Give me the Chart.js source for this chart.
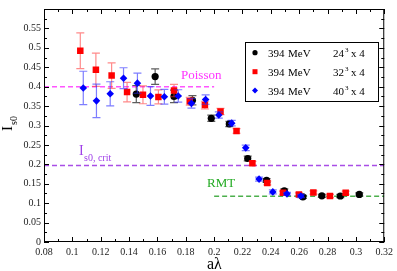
<!DOCTYPE html>
<html>
<head>
<meta charset="utf-8">
<script src="https://cdn.jsdelivr.net/npm/chart.js@4/dist/chart.umd.min.js"></script>
<style>
  html, body { margin: 0; padding: 0; background: #fff; }
  canvas { display: block; }
</style>
</head>
<body>
<canvas id="chart" width="397" height="271"></canvas>
<script>
// 394 MeV, 24^3 x 4
const x24 = [0.1451, 0.1584, 0.1717, 0.1847, 0.198, 0.2107, 0.2237, 0.237, 0.2495, 0.2626, 0.276, 0.289, 0.3024];
const y24 = [0.381, 0.426, 0.375, 0.365, 0.3185, 0.304, 0.215, 0.1585, 0.132, 0.116, 0.119, 0.1185, 0.1225];
const e24 = [0.022, 0.020, 0.016, 0.012, 0.008, 0.007, 0.006, 0.005, 0.005, 0.004, 0.004, 0.004, 0.004];

// 394 MeV, 32^3 x 4
const x32 = [0.1056, 0.1166, 0.1277, 0.1386, 0.1498, 0.1607, 0.1717, 0.1828, 0.1935, 0.2045, 0.2158, 0.227, 0.2375, 0.2486, 0.2598, 0.27, 0.2817, 0.2928];
const y32 = [0.4925, 0.4435, 0.4285, 0.386, 0.379, 0.3735, 0.39, 0.3625, 0.3525, 0.336, 0.286, 0.2025, 0.152, 0.127, 0.1225, 0.1275, 0.1185, 0.127];
const e32 = [0.046, 0.043, 0.033, 0.025, 0.023, 0.018, 0.016, 0.010, 0.010, 0.008, 0.006, 0.005, 0.005, 0.004, 0.004, 0.004, 0.004, 0.004];

// 394 MeV, 40^3 x 4
const x40 = [0.1077, 0.117, 0.1267, 0.1361, 0.1459, 0.1551, 0.1649, 0.1747, 0.184, 0.194, 0.2033, 0.2124, 0.2223, 0.2317, 0.2414, 0.2514, 0.2612];
const y40 = [0.3967, 0.3635, 0.3817, 0.4217, 0.409, 0.376, 0.374, 0.376, 0.357, 0.3667, 0.327, 0.306, 0.2425, 0.162, 0.129, 0.124, 0.1185];
const e40 = [0.043, 0.043, 0.031, 0.027, 0.026, 0.024, 0.019, 0.016, 0.012, 0.012, 0.008, 0.007, 0.007, 0.005, 0.005, 0.004, 0.004];

// reference levels
const poisson = 0.40, poissonEnd = 0.20;
const crit = 0.197;
const rmt = 0.1175, rmtStart = 0.20;

const latticeL = [24, 32, 40];
const mass = '394';
const nt = '4';

const serif = "'Liberation Serif', 'DejaVu Serif', serif";

const pts = (xs, ys) => xs.map((x, i) => ({x: x, y: ys[i]}));
const fmt = v => String(Number(v.toFixed(3)));

const errBars = {
  id: 'errBars',
  beforeDatasetDraw(chart, args) {
    const ds = chart.data.datasets[args.index];
    if (!ds.errors) return;
    const ctx = chart.ctx, xs = chart.scales.x, ys = chart.scales.y;
    ctx.save();
    ctx.strokeStyle = ds.errColor;
    ctx.lineWidth = 1.2;
    ds.data.forEach((p, i) => {
      const px = xs.getPixelForValue(p.x);
      const top = ys.getPixelForValue(p.y + ds.errors[i]);
      const bot = ys.getPixelForValue(p.y - ds.errors[i]);
      ctx.beginPath();
      ctx.moveTo(px, top); ctx.lineTo(px, bot);
      ctx.moveTo(px - 4, top); ctx.lineTo(px + 4, top);
      ctx.moveTo(px - 4, bot); ctx.lineTo(px + 4, bot);
      ctx.stroke();
    });
    ctx.restore();
  }
};

const decor = {
  id: 'decor',
  afterDraw(chart) {
    const ctx = chart.ctx, a = chart.chartArea;
    const xs = chart.scales.x, ys = chart.scales.y;
    ctx.save();

    // frame
    ctx.strokeStyle = '#000';
    ctx.lineWidth = 1;
    ctx.strokeRect(a.left + 0.5, a.top + 0.5, a.right - a.left - 1, a.bottom - a.top - 1);

    // inward ticks, all four sides
    ctx.beginPath();
    const xt = xs.ticks.map(t => t.value);
    xt.forEach((v, i) => {
      const p = Math.round(xs.getPixelForValue(v)) + 0.5;
      ctx.moveTo(p, a.bottom); ctx.lineTo(p, a.bottom - 5);
      ctx.moveTo(p, a.top); ctx.lineTo(p, a.top + 5);
      if (i < xt.length - 1) {
        const m = Math.round(xs.getPixelForValue((v + xt[i + 1]) / 2)) + 0.5;
        ctx.moveTo(m, a.bottom); ctx.lineTo(m, a.bottom - 3);
        ctx.moveTo(m, a.top); ctx.lineTo(m, a.top + 3);
      }
    });
    const yt = ys.ticks.map(t => t.value);
    yt.forEach((v, i) => {
      const p = Math.round(ys.getPixelForValue(v)) + 0.5;
      ctx.moveTo(a.left, p); ctx.lineTo(a.left + 5, p);
      ctx.moveTo(a.right, p); ctx.lineTo(a.right - 5, p);
      if (i < yt.length - 1) {
        const m = Math.round(ys.getPixelForValue((v + yt[i + 1]) / 2)) + 0.5;
        ctx.moveTo(a.left, m); ctx.lineTo(a.left + 3, m);
        ctx.moveTo(a.right, m); ctx.lineTo(a.right - 3, m);
      }
    });
    ctx.stroke();

    // axis titles
    ctx.fillStyle = '#000';
    ctx.textBaseline = 'alphabetic';
    ctx.textAlign = 'left';
    ctx.font = '16px ' + serif;
    ctx.fillText('a\u03bb', 207, 269);

    ctx.save();
    ctx.translate(12, 131);
    ctx.rotate(-Math.PI / 2);
    ctx.font = '15px ' + serif;
    ctx.fillText('I', 0, 0);
    ctx.font = '10px ' + serif;
    ctx.fillText('s0', 6, 5);
    ctx.restore();

    // reference labels
    ctx.font = '13px ' + serif;
    ctx.fillStyle = '#ff33ff';
    ctx.fillText('Poisson', 181, 79);
    ctx.fillStyle = '#22aa22';
    ctx.fillText('RMT', 207, 187);
    ctx.fillStyle = '#a040e8';
    ctx.font = '14px ' + serif;
    ctx.fillText('I', 79, 155);
    ctx.font = '10px ' + serif;
    ctx.fillText('s0, crit', 84, 161);

    // legend
    const bx = 245, by = 42, bw = 133, bh = 59;
    ctx.fillStyle = '#fff';
    ctx.fillRect(bx, by, bw, bh);
    ctx.strokeStyle = '#000';
    ctx.lineWidth = 1;
    ctx.strokeRect(bx + 0.5, by + 0.5, bw, bh);
    const rows = [52.7, 71.7, 90.5];
    chart.data.datasets.filter(d => d.errors).forEach((d, i) => {
      const ry = rows[i];
      ctx.fillStyle = d.backgroundColor;
      ctx.beginPath();
      if (d.pointStyle === 'circle') {
        ctx.arc(255, ry, 2.6, 0, Math.PI * 2);
      } else if (d.pointStyle === 'rect') {
        ctx.rect(252.5, ry - 2.5, 5, 5);
      } else {
        ctx.moveTo(255, ry - 3); ctx.lineTo(258, ry); ctx.lineTo(255, ry + 3); ctx.lineTo(252, ry);
        ctx.closePath();
      }
      ctx.fill();
      ctx.fillStyle = '#000';
      ctx.font = '11px ' + serif;
      ctx.fillText(mass, 268, ry + 4);
      ctx.fillText('MeV', 288, ry + 4);
      ctx.fillText(String(latticeL[i]), 333, ry + 4);
      ctx.fillText('x ' + nt, 351, ry + 4);
      ctx.font = '7px ' + serif;
      ctx.fillText('3', 345, ry - 1);
    });

    ctx.restore();
  }
};

const refLine = (data, color) => ({
  type: 'line',
  data: data,
  borderColor: color,
  borderWidth: 1.5,
  borderDash: [5, 3],
  pointRadius: 0,
  fill: false,
  order: 10
});

new Chart(document.getElementById('chart'), {
  type: 'scatter',
  data: {
    datasets: [
      {
        label: mass + ' MeV ' + latticeL[0] + '\u00b3 x ' + nt,
        data: pts(x24, y24),
        errors: e24,
        errColor: 'rgba(40,40,40,0.75)',
        pointStyle: 'circle',
        pointRadius: 3.6,
        backgroundColor: '#000',
        borderColor: '#000',
        borderWidth: 0,
        order: 3
      },
      {
        label: mass + ' MeV ' + latticeL[1] + '\u00b3 x ' + nt,
        data: pts(x32, y32),
        errors: e32,
        errColor: 'rgba(255,60,60,0.6)',
        pointStyle: 'rect',
        pointRadius: 4.6,
        backgroundColor: '#ff0000',
        borderColor: '#ff0000',
        borderWidth: 0,
        order: 2
      },
      {
        label: mass + ' MeV ' + latticeL[2] + '\u00b3 x ' + nt,
        data: pts(x40, y40),
        errors: e40,
        errColor: 'rgba(40,40,255,0.6)',
        pointStyle: 'rectRot',
        pointRadius: 3.8,
        backgroundColor: '#0000ff',
        borderColor: '#0000ff',
        borderWidth: 0,
        order: 1
      },
      refLine([{x: 0.08, y: poisson}, {x: poissonEnd, y: poisson}], '#ff55ff'),
      refLine([{x: 0.08, y: crit}, {x: 0.32, y: crit}], '#a94ee6'),
      refLine([{x: rmtStart, y: rmt}, {x: 0.32, y: rmt}], '#4caf4c')
    ]
  },
  options: {
    responsive: false,
    animation: false,
    devicePixelRatio: 1,
    layout: { padding: { top: 2, right: 9, left: 0, bottom: 0 } },
    plugins: {
      legend: { display: false },
      tooltip: { enabled: false }
    },
    scales: {
      x: {
        type: 'linear',
        min: 0.08,
        max: 0.32,
        afterFit: s => { s.height = 29; },
        grid: { display: false, drawTicks: false },
        border: { display: false },
        ticks: {
          stepSize: 0.02,
          padding: 4,
          maxRotation: 0,
          autoSkip: false,
          color: '#222',
          font: { family: serif, size: 10 },
          callback: v => fmt(v)
        }
      },
      y: {
        min: 0,
        max: 0.6,
        afterFit: s => { s.width = 44; },
        grid: { display: false, drawTicks: false },
        border: { display: false },
        ticks: {
          stepSize: 0.05,
          padding: 3,
          autoSkip: false,
          color: '#222',
          font: { family: serif, size: 10 },
          callback: v => v > 0.575 ? '' : fmt(v)
        }
      }
    }
  },
  plugins: [errBars, decor]
});
</script>
</body>
</html>
